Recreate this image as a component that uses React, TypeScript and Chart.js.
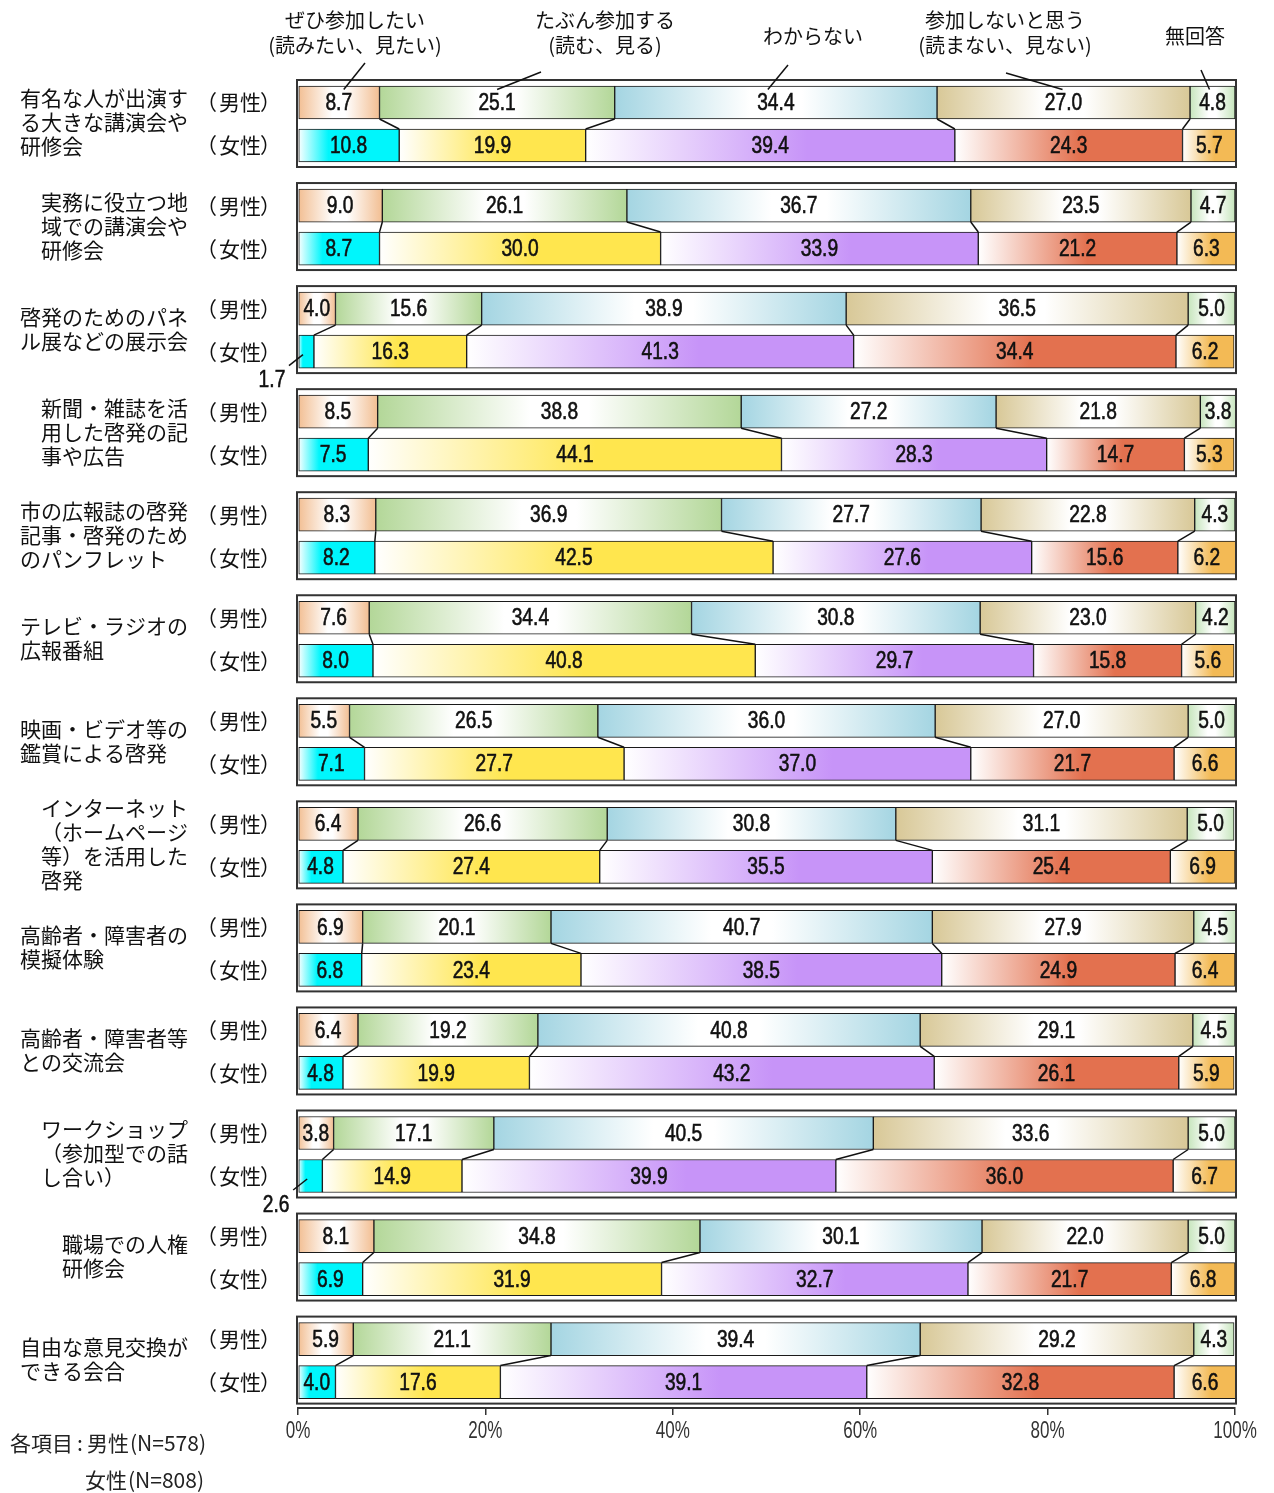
import React, { useEffect, useRef } from 'react';
import { Chart, registerables } from 'chart.js';

Chart.register(...registerables);

// ---------------- data ----------------
const GROUP_LABELS: string[][] = [
  ['有名な人が出演す', 'る大きな講演会や', '研修会'],
  ['実務に役立つ地', '域での講演会や', '研修会'],
  ['啓発のためのパネ', 'ル展などの展示会'],
  ['新聞・雑誌を活', '用した啓発の記', '事や広告'],
  ['市の広報誌の啓発', '記事・啓発のため', 'のパンフレット'],
  ['テレビ・ラジオの', '広報番組'],
  ['映画・ビデオ等の', '鑑賞による啓発'],
  ['インターネット', '（ホームページ', '等）を活用した', '啓発'],
  ['高齢者・障害者の', '模擬体験'],
  ['高齢者・障害者等', 'との交流会'],
  ['ワークショップ', '（参加型での話', 'し合い）'],
  ['職場での人権', '研修会'],
  ['自由な意見交換が', 'できる会合'],
];

const RESPONSES: string[] = [
  'ぜひ参加したい（読みたい、見たい）',
  'たぶん参加する（読む、見る）',
  'わからない',
  '参加しないと思う（読まない、見ない）',
  '無回答',
];

const GENDERS: string[] = ['男性', '女性'];

const MALE: number[][] = [
  [8.7, 25.1, 34.4, 27.0, 4.8],
  [9.0, 26.1, 36.7, 23.5, 4.7],
  [4.0, 15.6, 38.9, 36.5, 5.0],
  [8.5, 38.8, 27.2, 21.8, 3.8],
  [8.3, 36.9, 27.7, 22.8, 4.3],
  [7.6, 34.4, 30.8, 23.0, 4.2],
  [5.5, 26.5, 36.0, 27.0, 5.0],
  [6.4, 26.6, 30.8, 31.1, 5.0],
  [6.9, 20.1, 40.7, 27.9, 4.5],
  [6.4, 19.2, 40.8, 29.1, 4.5],
  [3.8, 17.1, 40.5, 33.6, 5.0],
  [8.1, 34.8, 30.1, 22.0, 5.0],
  [5.9, 21.1, 39.4, 29.2, 4.3],
];

const FEMALE: number[][] = [
  [10.8, 19.9, 39.4, 24.3, 5.7],
  [8.7, 30.0, 33.9, 21.2, 6.3],
  [1.7, 16.3, 41.3, 34.4, 6.2],
  [7.5, 44.1, 28.3, 14.7, 5.3],
  [8.2, 42.5, 27.6, 15.6, 6.2],
  [8.0, 40.8, 29.7, 15.8, 5.6],
  [7.1, 27.7, 37.0, 21.7, 6.6],
  [4.8, 27.4, 35.5, 25.4, 6.9],
  [6.8, 23.4, 38.5, 24.9, 6.4],
  [4.8, 19.9, 43.2, 26.1, 5.9],
  [2.6, 14.9, 39.9, 36.0, 6.7],
  [6.9, 31.9, 32.7, 21.7, 6.8],
  [4.0, 17.6, 39.1, 32.8, 6.6],
];

const X_TICKS: number[] = [0, 20, 40, 60, 80, 100];

const FOOT_TITLE = '各項目';
const FOOT_N: string[] = ['(N=578)', '(N=808)'];

// ---------------- styles ----------------
const MALE_COLORS = ['#F2BE92', '#B3D798', '#A4D5E2', '#D8C897', '#C6E5BC'];
const FEMALE_COLORS = ['#00F6FC', '#FFE64E', '#C794F8', '#E3714F', '#F3BA55'];
const FEMALE_STOP = [0.3, 0.55, 0.6, 0.55, 0.6];

const W = 1274;
const H = 1493;
const AREA_LEFT = 298;
const AREA_RIGHT = 1235;
const AREA_TOP = 80;
const AREA_BOTTOM = 1408;
const PITCH = 103.05; // px per group
const FIRST_CENTER = 102.5;
const FEMALE_OFFSET = 43 / PITCH;
const BAR = 33;
const Y_MIN = (AREA_TOP - FIRST_CENTER) / PITCH;
const Y_MAX = (AREA_BOTTOM - FIRST_CENTER) / PITCH;

const JP = '"Noto Sans CJK JP", "Noto Sans", sans-serif';
const NUM = '"Liberation Sans", Arial, sans-serif';

function condText(ctx: CanvasRenderingContext2D, text: string, x: number, y: number, px: number, sx: number, align: CanvasTextAlign = 'center', color = '#111', thick = 0) {
  ctx.save();
  ctx.translate(x, y);
  ctx.scale(sx, 1);
  ctx.font = `${px}px ${NUM}`;
  ctx.fillStyle = color;
  ctx.textAlign = align;
  ctx.textBaseline = 'middle';
  ctx.fillText(text, 0, 0);
  if (thick > 0) {
    ctx.strokeStyle = color;
    ctx.lineWidth = thick;
    ctx.strokeText(text, 0, 0);
  }
  ctx.restore();
}

function line(ctx: CanvasRenderingContext2D, x1: number, y1: number, x2: number, y2: number, w = 1.5, color = '#111') {
  ctx.save();
  ctx.strokeStyle = color;
  ctx.lineWidth = w;
  ctx.beginPath();
  ctx.moveTo(x1, y1);
  ctx.lineTo(x2, y2);
  ctx.stroke();
  ctx.restore();
}

function rowValues(i: number): number[] {
  const g = Math.floor(i / 2);
  return i % 2 === 0 ? MALE[g] : FEMALE[g];
}

const decorPlugin = {
  id: 'decor',
  beforeDatasetsDraw(chart: any) {
    const ctx: CanvasRenderingContext2D = chart.ctx;
    const xs = chart.scales.x;
    const ys = chart.scales.y;
    const l = xs.getPixelForValue(0);
    const r = xs.getPixelForValue(100);
    ctx.save();
    for (let g = 0; g < MALE.length; g++) {
      const top = ys.getPixelForValue(g) - BAR / 2 - 6;
      const bot = ys.getPixelForValue(g + FEMALE_OFFSET) + BAR / 2 + 5;
      ctx.strokeStyle = '#333';
      ctx.lineWidth = 2;
      ctx.strokeRect(l - 1, top, r - l + 2, bot - top);
    }
    ctx.restore();
  },
  afterDatasetsDraw(chart: any) {
    const ctx: CanvasRenderingContext2D = chart.ctx;
    const xs = chart.scales.x;
    const ys = chart.scales.y;
    for (let g = 0; g < MALE.length; g++) {
      const my = ys.getPixelForValue(g);
      const fy = ys.getPixelForValue(g + FEMALE_OFFSET);
      // connectors between segment boundaries
      let cm = 0;
      let cf = 0;
      for (let k = 0; k < 4; k++) {
        cm += MALE[g][k];
        cf += FEMALE[g][k];
        line(ctx, xs.getPixelForValue(cm), my + BAR / 2, xs.getPixelForValue(cf), fy - BAR / 2, 1.5, '#111');
      }
      // value labels
      [MALE[g], FEMALE[g]].forEach((vals, s) => {
        const cy = s === 0 ? my : fy;
        let c = 0;
        vals.forEach((v) => {
          const x0 = xs.getPixelForValue(c);
          const x1 = xs.getPixelForValue(c + v);
          c += v;
          const cx = (x0 + x1) / 2;
          if (v < 3) {
            line(ctx, cx - 3, cy + 3, cx - 17, cy + 14, 1.5, '#111');
            condText(ctx, v.toFixed(1), cx - 34, cy + 29, 24, 0.8, 'center', '#111', 0.6);
          } else {
            condText(ctx, v.toFixed(1), cx, cy + 1, 24, 0.8, 'center', '#111', 0.6);
          }
        });
      });
    }
  },
  afterDraw(chart: any) {
    const ctx: CanvasRenderingContext2D = chart.ctx;
    const xs = chart.scales.x;
    const ys = chart.scales.y;
    ctx.save();
    ctx.fillStyle = '#111';
    ctx.textBaseline = 'middle';
    // group labels
    ctx.font = `21px ${JP}`;
    GROUP_LABELS.forEach((lines, g) => {
      const my = ys.getPixelForValue(g);
      const maxW = Math.max(...lines.map((t) => ctx.measureText(t).width));
      const x = 188 - maxW;
      const center = my + 20;
      const y0 = center - ((lines.length - 1) * 24) / 2;
      ctx.textAlign = 'left';
      lines.forEach((t, j) => ctx.fillText(t, x, y0 + j * 24));
      // gender labels
      [g, g + FEMALE_OFFSET].forEach((yv, s) => {
        const y = ys.getPixelForValue(yv);
        ctx.textAlign = 'right';
        ctx.fillText('（', 217, y);
        ctx.textAlign = 'left';
        ctx.fillText(GENDERS[s], 219, y);
        ctx.fillText('）', 260, y);
      });
    });
    // legend (response names) with leader lines to group 1 male
    ctx.font = `20px ${JP}`;
    ctx.textAlign = 'center';
    const my0 = ys.getPixelForValue(0);
    const legendPos = [
      { x: 355, lines: ['ぜひ参加したい', '(読みたい、見たい)'], sx: 365, sy: 63, dx: 5 },
      { x: 605, lines: ['たぶん参加する', '(読む、見る)'], sx: 541, sy: 72, dx: 0 },
      { x: 813, lines: ['わからない'], sx: 788, sy: 65, dx: -8 },
      { x: 1005, lines: ['参加しないと思う', '(読まない、見ない)'], sx: 1006, sy: 73, dx: -1 },
      { x: 1195, lines: ['無回答'], sx: 1201, sy: 70, dx: -3 },
    ];
    let c = 0;
    legendPos.forEach((p, k) => {
      const v = MALE[0][k];
      const cx = (xs.getPixelForValue(c) + xs.getPixelForValue(c + v)) / 2;
      c += v;
      if (p.lines.length === 2) {
        ctx.fillText(p.lines[0], p.x, 20);
        ctx.fillText(p.lines[1], p.x, 45);
      } else {
        ctx.fillText(p.lines[0], p.x, 36);
      }
      line(ctx, p.sx, p.sy, cx + p.dx, my0 - 13, 1.5, '#111');
    });
    // x tick labels
    X_TICKS.forEach((t) => {
      condText(ctx, `${t}%`, xs.getPixelForValue(t), 1432, 23, 0.74, 'center', '#333');
    });
    // footnote
    ctx.font = `21px ${JP}`;
    ctx.fillStyle = '#222';
    ctx.textAlign = 'left';
    ctx.fillText(FOOT_TITLE, 10, 1443);
    ctx.textAlign = 'center';
    ctx.fillText(':', 80, 1443);
    ctx.textAlign = 'left';
    ctx.fillText(GENDERS[0], 87, 1443);
    ctx.fillText(FOOT_N[0], 130, 1443);
    ctx.fillText(GENDERS[1], 85, 1480);
    ctx.fillText(FOOT_N[1], 128, 1480);
    ctx.restore();
  },
};

function makeGradient(c: any): any {
  const k = c.datasetIndex;
  const i = c.dataIndex;
  const female = i % 2 === 1;
  const base = female ? FEMALE_COLORS[k] : MALE_COLORS[k];
  const chart = c.chart;
  if (c.type !== 'data' || !chart.chartArea || !chart.scales || !chart.scales.x) return base;
  const vals = rowValues(i);
  let s = 0;
  for (let j = 0; j < k; j++) s += vals[j];
  const xs = chart.scales.x;
  const x0 = xs.getPixelForValue(s);
  const x1 = xs.getPixelForValue(s + vals[k]);
  if (!isFinite(x0) || !isFinite(x1) || x1 - x0 < 1) return base;
  const gr = chart.ctx.createLinearGradient(x0, 0, x1, 0);
  if (female) {
    gr.addColorStop(0, '#ffffff');
    gr.addColorStop(FEMALE_STOP[k], base);
    gr.addColorStop(1, base);
  } else {
    gr.addColorStop(0, base);
    gr.addColorStop(0.42, '#ffffff');
    gr.addColorStop(0.58, '#ffffff');
    gr.addColorStop(1, base);
  }
  return gr;
}

export default function App() {
  const ref = useRef<HTMLCanvasElement | null>(null);
  useEffect(() => {
    if (!ref.current) return;
    const datasets = RESPONSES.map((name, k) => ({
      label: name,
      data: MALE.flatMap((m, g) => [
        { x: m[k], y: g },
        { x: FEMALE[g][k], y: g + FEMALE_OFFSET },
      ]),
      backgroundColor: makeGradient,
      borderColor: '#1a1a1a',
      borderWidth: 1,
      borderSkipped: false,
      barThickness: BAR,
    }));
    const chart = new Chart(ref.current, {
      type: 'bar',
      data: { datasets } as any,
      options: {
        indexAxis: 'y',
        animation: false,
        responsive: false,
        events: [],
        layout: { padding: { left: AREA_LEFT, right: W - AREA_RIGHT, top: AREA_TOP, bottom: 0 } },
        plugins: { legend: { display: false }, tooltip: { enabled: false } },
        scales: {
          x: {
            type: 'linear',
            min: 0,
            max: 100,
            stacked: true,
            offset: false,
            position: 'bottom',
            afterBuildTicks: (s: any) => {
              s.ticks = X_TICKS.map((v) => ({ value: v }));
            },
            afterFit: (s: any) => {
              s.height = H - AREA_BOTTOM;
            },
            grid: { drawOnChartArea: false, drawTicks: true, tickLength: 7, color: '#333', lineWidth: 1.5, offset: false },
            border: { display: true, color: '#333', width: 2 },
            ticks: { display: false },
          },
          y: {
            type: 'linear',
            display: false,
            reverse: true,
            stacked: true,
            offset: false,
            grid: { offset: false },
            min: Y_MIN,
            max: Y_MAX,
          },
        },
      } as any,
      plugins: [decorPlugin],
    });
    return () => chart.destroy();
  }, []);
  return (
    <div style={{ position: 'absolute', left: 0, top: 0, width: W, height: H, background: '#fff' }}>
      <canvas ref={ref} width={W} height={H} style={{ width: W, height: H, display: 'block' }} />
    </div>
  );
}
